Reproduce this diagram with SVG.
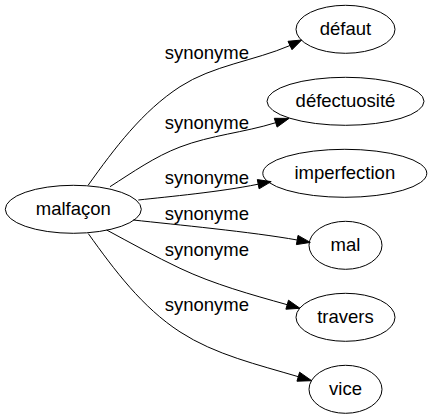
<svg xmlns="http://www.w3.org/2000/svg" width="432" height="419" viewBox="0 0 432 419">
<style>
  .node ellipse { fill: none; stroke: #000; stroke-width: 1; }
  .node text, .elabel { font-family: "Liberation Sans", Arial, sans-serif; font-size: 18.5px; fill: #000; text-anchor: middle; }
  .edge path { fill: none; stroke: #000; stroke-width: 1; }
  .edge polygon { fill: #000; stroke: #000; stroke-width: 1; }
</style>
<rect width="432" height="419" fill="#fff"/>
<g id="connectors">
  <g class="edge" id="e-defaut">
    <path d="M88.3,185 C114.5,148.4 142.3,111.2 180,86.7 C212.7,65.4 254.2,60.9 290,45.5"/>
    <polygon points="292,49.7 301.7,40 288,41.3"/>
    <text class="elabel" x="206.8" y="59.3">synonyme</text>
  </g>
  <g class="edge" id="e-defectuosite">
    <path d="M110,186.7 C132.7,172.2 154.8,156.6 180,147 C210.8,135.2 244.2,132.5 275.7,122.7"/>
    <polygon points="277.1,127.1 289,118.4 274.3,118.3"/>
    <text class="elabel" x="206.8" y="129">synonyme</text>
  </g>
  <g class="edge" id="e-imperfection">
    <path d="M138.3,200 C170,196.5 218.2,192.2 258.2,184.2"/>
    <polygon points="259.1,188.8 271.2,181.6 257.3,179.6"/>
    <text class="elabel" x="206.8" y="183.8">synonyme</text>
  </g>
  <g class="edge" id="e-mal">
    <path d="M133.3,220 C175,224.6 252.2,231.9 297.2,240"/>
    <polygon points="296.4,244.6 310.3,242.4 298,235.4"/>
    <text class="elabel" x="206.8" y="220">synonyme</text>
  </g>
  <g class="edge" id="e-travers">
    <path d="M106.7,230 C131,243.1 155,256.5 180,268.3 C214.1,284.4 250.9,294.5 287.2,304.7"/>
    <polygon points="285.9,309.2 300,308.3 288.5,300.2"/>
    <text class="elabel" x="206.8" y="256.2">synonyme</text>
  </g>
  <g class="edge" id="e-vice">
    <path d="M88.3,233.6 C114.5,270.2 142.3,307.4 180,331.9 C215.2,354.8 258.1,364.7 298.3,376.7"/>
    <polygon points="296.96,381.2 311.7,380.7 299.6,372.2"/>
    <text class="elabel" x="206.8" y="310.5">synonyme</text>
  </g>
</g>
<g class="node" id="n-malfacon">
  <ellipse cx="73.3" cy="209.3" rx="68" ry="24"/>
  <text x="73.3" y="214.9">malfaçon</text>
</g>
<g class="node" id="n-defaut">
  <ellipse cx="345.5" cy="29.3" rx="49.5" ry="24"/>
  <text x="345.5" y="34.9">défaut</text>
</g>
<g class="node" id="n-defectuosite">
  <ellipse cx="345.5" cy="101.3" rx="78.5" ry="24"/>
  <text x="345.5" y="106.9">défectuosité</text>
</g>
<g class="node" id="n-imperfection">
  <ellipse cx="344.8" cy="173.3" rx="82" ry="24"/>
  <text x="344.8" y="178.9">imperfection</text>
</g>
<g class="node" id="n-mal">
  <ellipse cx="345.5" cy="245.3" rx="36.5" ry="24"/>
  <text x="345.5" y="250.9">mal</text>
</g>
<g class="node" id="n-travers">
  <ellipse cx="345.5" cy="317.3" rx="49.5" ry="24"/>
  <text x="345.5" y="322.9">travers</text>
</g>
<g class="node" id="n-vice">
  <ellipse cx="345.5" cy="389.3" rx="36.5" ry="24"/>
  <text x="345.5" y="394.9">vice</text>
</g>
</svg>
